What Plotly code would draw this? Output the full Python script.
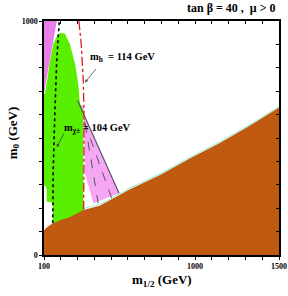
import plotly.graph_objects as go

# ---- data (m_1/2, m_0) in GeV ----
brown_m12 = [100, 106, 136, 195, 255, 332, 434, 493, 612, 800, 970, 1150, 1327, 1500]
brown_m0 = [105, 111, 128, 149, 162, 191, 212, 234, 281, 345, 413, 480, 553, 630]

green_m12 = [100, 106, 136, 155, 180, 200, 225, 255, 285, 304, 314, 334, 334, 152, 152, 116, 116, 100]
green_m0 = [689, 689, 830, 902, 940, 950, 945, 900, 817, 731, 647, 617, 100, 100, 225, 228, 285, 300]

pinkTL_m12 = [100, 176, 100]
pinkTL_m0 = [1000, 1000, 689]

pinkband_m12 = [312, 547, 394, 344, 336]
pinkband_m0 = [640, 264, 221, 349, 640]

g2_line_m12 = [300, 547]
g2_line_m0 = [660, 264]

g2_dashA_m12 = [345, 423]
g2_dashA_m0 = [560, 221]
g2_dashB_m12 = [340, 503]
g2_dashB_m0 = [570, 243]

cyan_m12 = [340, 434, 493, 612, 800, 970, 1150, 1327, 1500]
cyan_m0 = [199, 217, 239, 286, 350, 418, 485, 558, 635]

chargino_m12 = [152, 155, 165, 176, 191]
chargino_m0 = [136, 362, 617, 830, 1000]

higgs_m12 = [308, 322, 334, 338, 338, 336]
higgs_m0 = [1000, 900, 745, 617, 400, 190]

x_tickvals = [100, 1000, 1500]
x_ticktext = ["100", "1000", "1500"]
y_tickvals = [0, 1000]
y_ticktext = ["0", "1000"]

SERIF = "Liberation Serif, Times New Roman, serif"

fig = go.Figure()

def poly(xs, ys, color):
    fig.add_trace(go.Scatter(x=xs + [xs[0]], y=ys + [ys[0]], mode="lines", fill="toself",
                             fillcolor=color, line=dict(width=0, color=color),
                             hoverinfo="skip", showlegend=False))

def line(xs, ys, color, width, dash="solid"):
    fig.add_trace(go.Scatter(x=xs, y=ys, mode="lines",
                             line=dict(color=color, width=width, dash=dash),
                             hoverinfo="skip", showlegend=False))

poly(pinkTL_m12, pinkTL_m0, "#e97ee9")
poly(pinkband_m12, pinkband_m0, "#f6a6f2")
poly(green_m12, green_m0, "#58ef00")
poly(brown_m12 + [1500, 100], brown_m0 + [0, 0], "#c05a10")
line(cyan_m12, cyan_m0, "#a6f2dc", 1.2)
line(g2_line_m12, g2_line_m0, "#505060", 1.1)
line(g2_dashA_m12, g2_dashA_m0, "#555560", 1, "dash")
line(g2_dashB_m12, g2_dashB_m0, "#555560", 1, "dash")
line(chargino_m12, chargino_m0, "#000000", 1.6, "dot")
line(higgs_m12, higgs_m0, "#e8141e", 1.3, "dashdot")

axis_common = dict(showline=True, linecolor="black", linewidth=1.5, showgrid=False,
                   zeroline=False)

fig.update_layout(
    width=288, height=296,
    margin=dict(l=44, r=9, t=21, b=41, autoexpand=False),
    plot_bgcolor="white", paper_bgcolor="white",
    font=dict(family=SERIF, color="black"),
    xaxis=dict(range=[100, 1500], tickvals=x_tickvals,
               ticktext=["<b>%s</b>" % t for t in x_ticktext],
               ticks="outside", ticklen=3, tickwidth=1, tickcolor="black",
               minor=dict(tick0=100, dtick=100, ticks="outside", ticklen=3, tickcolor="black"),
               tickfont=dict(size=8, family=SERIF), tickangle=0, automargin=False,
               **axis_common),
    yaxis=dict(range=[0, 1000], tickvals=y_tickvals,
               ticktext=["<b>%s</b>" % t for t in y_ticktext],
               ticks="outside", ticklen=3, tickwidth=1, tickcolor="black",
               minor=dict(tick0=0, dtick=100, ticks="outside", ticklen=3, tickcolor="black"),
               tickfont=dict(size=8, family=SERIF), automargin=False, **axis_common),
    xaxis2=dict(range=[100, 1500], overlaying="x", side="top", tick0=100, dtick=100,
                showticklabels=False, ticks="inside", ticklen=3, tickcolor="black",
                automargin=False, **axis_common),
    yaxis2=dict(range=[0, 1000], overlaying="y", side="right", tick0=0, dtick=100,
                showticklabels=False, ticks="inside", ticklen=3, tickcolor="black",
                automargin=False, **axis_common),
)
fig.add_trace(go.Scatter(x=[None], y=[None], xaxis="x2", yaxis="y2", showlegend=False, hoverinfo="skip"))

ann = []
ann.append(dict(text="<b>tan β = 40 ,  μ > 0</b>", xref="paper", yref="paper",
                x=1.0, y=1.0, xanchor="right", yanchor="bottom", yshift=4, xshift=-2,
                showarrow=False, font=dict(size=12, family=SERIF)))
ann.append(dict(text="<b>m<sub>1/2</sub> (GeV)</b>", xref="paper", yref="paper",
                x=0.5, y=0, xanchor="center", yanchor="top", yshift=-15,
                showarrow=False, font=dict(size=13, family=SERIF)))
ann.append(dict(text="<b>m<sub>0</sub> (GeV)</b>", xref="paper", yref="paper",
                x=0, y=0.52, xanchor="center", yanchor="middle", xshift=-31, textangle=-90,
                showarrow=False, font=dict(size=13, family=SERIF)))
ann.append(dict(text="<b>m<sub>h</sub>  = 114 GeV</b>", xref="x", yref="y",
                x=362, y=845, xanchor="left", yanchor="middle",
                showarrow=False, font=dict(size=10.5, family=SERIF)))
ann.append(dict(text="<b>m<sub>χ±</sub> = 104 GeV</b>", xref="x", yref="y",
                x=210, y=540, xanchor="left", yanchor="middle",
                showarrow=False, font=dict(size=10.5, family=SERIF)))
ann.append(dict(text="", x=344, y=737, ax=416, ay=801, xref="x", yref="y",
                axref="x", ayref="y", showarrow=True, arrowhead=2, arrowsize=0.8,
                arrowwidth=0.8, arrowcolor="#444444"))
ann.append(dict(text="", x=176, y=461, ax=223, ay=525, xref="x", yref="y",
                axref="x", ayref="y", showarrow=True, arrowhead=2, arrowsize=0.8,
                arrowwidth=0.8, arrowcolor="#444444"))
fig.update_layout(annotations=ann)

fig.write_html("out.html", config={"displayModeBar": False},
               post_script="document.body.style.margin='0';")
